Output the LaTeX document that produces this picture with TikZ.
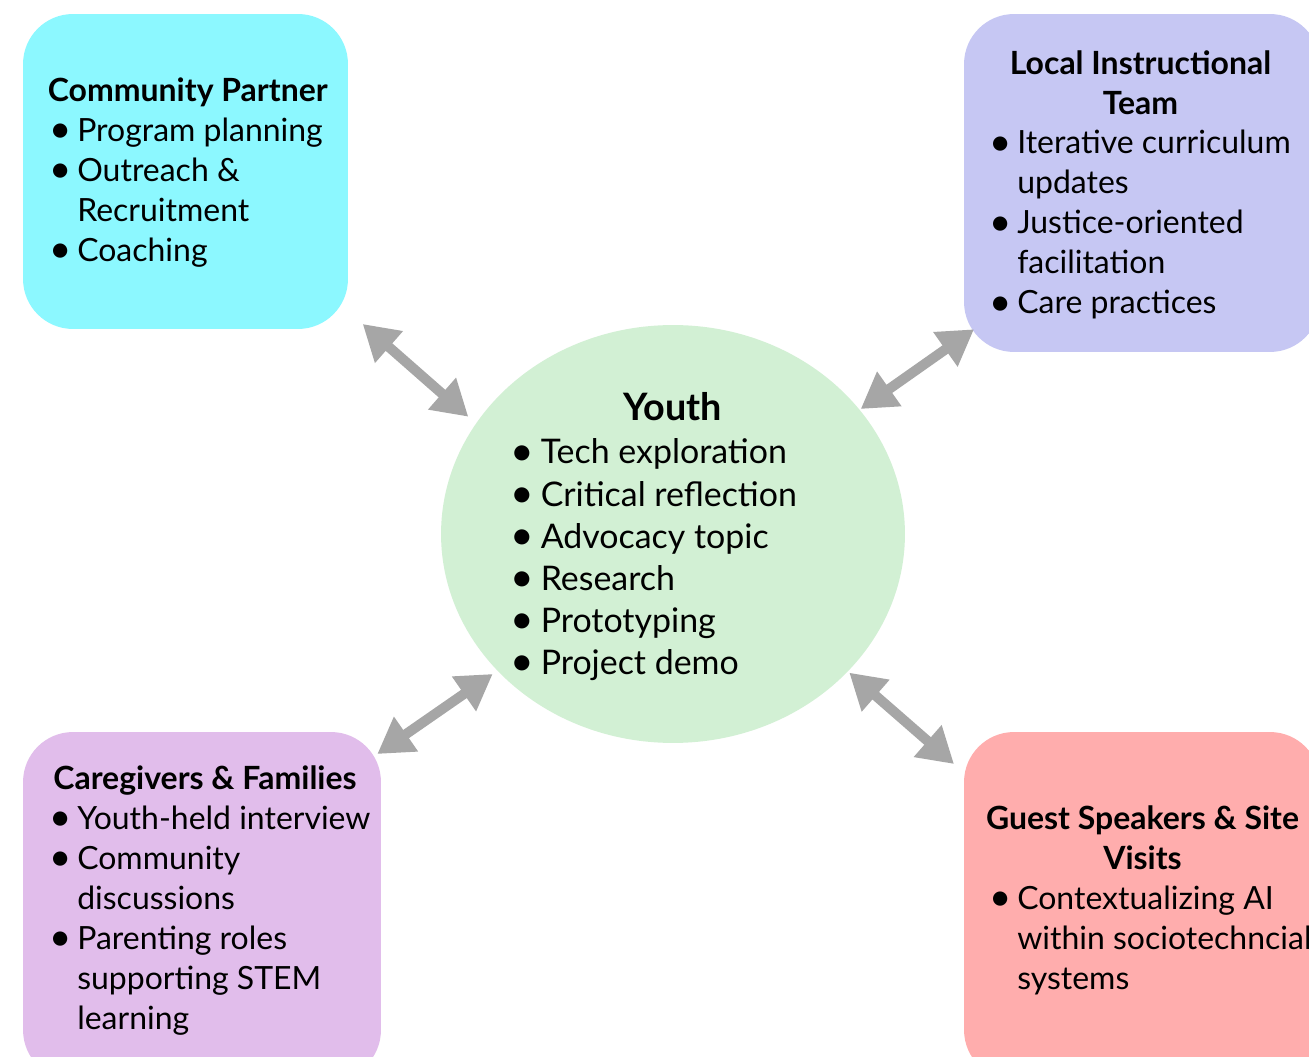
\documentclass[tikz,border=0pt]{standalone}
\usepackage{fontspec}
\setmainfont{Lato}
\usepackage{tikz}
\usetikzlibrary{positioning,shapes.geometric,arrows.meta}

% viñeta y sangría de continuación para las listas
\newcommand\bul{\makebox[0.78em][l]{\hspace*{-0.1em}\raisebox{-0.04em}{\scalebox{1.2}{\textbullet}}}}
\newcommand\sig{\hspace*{0.78em}}

\begin{document}
\begin{tikzpicture}[x=0.02cm,y=-0.02cm,font=\fontsize{18.2}{22.76}\selectfont]
		% --- Escala: 1 unidad = 1 px, origen arriba a la izquierda ---
		\useasboundingbox (0,0) rectangle (1309,1057);
		\clip (0,0) rectangle (1309,1057);
		\fill[white] (0,0) rectangle (1309,1057);

		% --- Colores y estilos ---
		\definecolor{gsocio}{RGB}{140,248,255}
		\definecolor{gequipo}{RGB}{198,199,243}
		\definecolor{gjoven}{RGB}{210,240,212}
		\definecolor{gfam}{RGB}{225,189,235}
		\definecolor{ginv}{RGB}{255,173,173}
		\definecolor{gflecha}{RGB}{166,166,166}
		\tikzset{caja/.style={rectangle, rounded corners=1cm, inner sep=0pt},
			lista/.style={inner sep=0pt, anchor=base west},
			titulo/.style={inner sep=0pt, font=\fontsize{18.2}{22.76}\selectfont\bfseries},
			flecha/.style={draw=gflecha, line width=0.2cm,
				{Triangle[length=0.7cm,width=0.8cm]}-{Triangle[length=0.7cm,width=0.8cm]}}}

		% --- Cajas ---
		\node[caja, fill=gsocio,  minimum width=6.5cm,  minimum height=6.3cm]  (socio)  at (185.5,171.5) {};
		\node[caja, fill=gequipo, minimum width=7.12cm, minimum height=6.76cm] (equipo) at (1142,183) {};
		\node[caja, fill=gfam,    minimum width=7.16cm, minimum height=6.96cm] (fam)    at (202,906) {};
		\node[caja, fill=ginv,    minimum width=7.12cm, minimum height=6.96cm] (inv)    at (1142,906) {};
		\node[ellipse, fill=gjoven, inner sep=0pt, minimum width=9.28cm, minimum height=8.36cm] (joven) at (673,534) {};

		% --- Textos ---
		\node[titulo, anchor=base west] (socio-t) at (47.5,101.7) {Community Partner};
		\node[lista] (socio-l) at (52,141.7) {\begin{tabular}[t]{@{}l@{}}
				\bul Program planning\\ \bul Outreach \&\\ \sig Recruitment\\ \bul Coaching
			\end{tabular}};

		\node[titulo, anchor=base] (equipo-t) at (1140.5,74.5) {\begin{tabular}[t]{@{}c@{}}
				Local Instructional\\ Team\end{tabular}};
		\node[lista] (equipo-l) at (992,154) {\begin{tabular}[t]{@{}l@{}}
				\bul Iterative curriculum\\ \sig updates\\ \bul Justice-oriented\\ \sig facilitation\\ \bul Care practices
			\end{tabular}};

		\node[titulo, anchor=base, font=\fontsize{21.5}{25}\selectfont\bfseries] (joven-t) at (672.8,421) {Youth};
		\node[lista, font=\fontsize{19.3}{23.94}\selectfont] (joven-l) at (514,464) {\begin{tabular}[t]{@{}l@{}}
				\bul Tech exploration\\ \bul Critical reflection\\ \bul Advocacy topic\\ \bul Research\\ \bul Prototyping\\ \bul Project demo
			\end{tabular}};

		\node[titulo, anchor=base west] (fam-t) at (53,789.5) {Caregivers \& Families};
		\node[lista] (fam-l) at (52,829.5) {\begin{tabular}[t]{@{}l@{}}
				\bul Youth-held interview\\ \bul Community\\ \sig discussions\\ \bul Parenting roles\\ \sig supporting STEM\\ \sig learning
			\end{tabular}};

		\node[titulo, anchor=base] (inv-t) at (1142.5,829.5) {\begin{tabular}[t]{@{}c@{}}
				Guest Speakers \& Site\\ Visits\end{tabular}};
		\node[lista] (inv-l) at (992,909.5) {\begin{tabular}[t]{@{}l@{}}
				\bul Contextualizing AI\\ \sig within sociotechncial\\ \sig systems
			\end{tabular}};

		% --- Flechas dobles entre cajas y el centro ---
		\coordinate (f1a) at (362.7,324);   \coordinate (f1b) at (468.3,416.7);
		\coordinate (f2a) at (974,329.3);   \coordinate (f2b) at (860.7,409);
		\coordinate (f3a) at (492.7,674);   \coordinate (f3b) at (377.3,754);
		\coordinate (f4a) at (849.3,672.7); \coordinate (f4b) at (954,764);
		\foreach \i in {1,...,4} \draw[flecha] (f\i a) -- (f\i b);
	\end{tikzpicture}
\end{document}
